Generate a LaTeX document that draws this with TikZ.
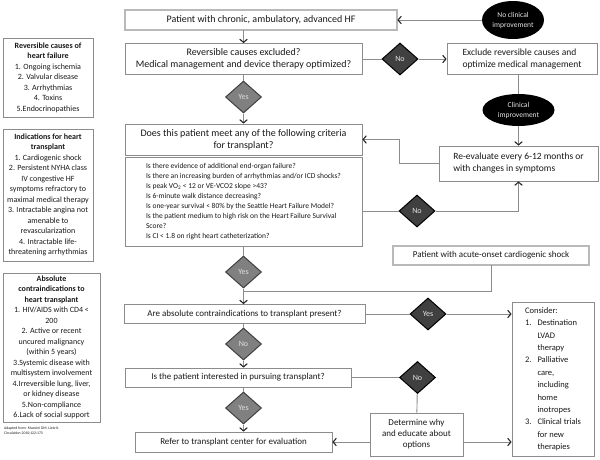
\documentclass[tikz,border=0pt]{standalone}
\usepackage{fontspec}
\setmainfont{Carlito}
\usetikzlibrary{arrows.meta,shapes.geometric,positioning,calc}
\definecolor{linegray}{HTML}{8C8C8C}
\definecolor{darkdiam}{HTML}{404040}
\definecolor{lightdiam}{HTML}{808080}
\newcommand\fsz[2]{\fontsize{#1}{#2}\selectfont}

\begin{document}
\begin{tikzpicture}[x=1pt,y=-1pt,
  every node/.style={align=center,text=black!90,inner sep=0pt,font=\fsz{9}{11}},
  sz/.style 2 args={minimum width=#1pt,minimum height=#2pt},
  box/.style={draw=linegray,line width=0.8pt,fill=white},
  dbox/.style={draw=black!65,line width=0.7pt,double=gray!55,double distance=1.3pt,fill=white},
  sidebox/.style={box,font=\fsz{8}{10.5}},
  ydiam/.style={diamond,draw=black!75,line width=1pt,fill=lightdiam,text=gray!25,
                minimum width=36pt,minimum height=32pt,font=\fsz{8}{9}},
  ndiam/.style={ydiam,fill=darkdiam,draw=black,text=white!90!black},
  oval/.style={ellipse,fill=black,text=white!90!black,font=\fsz{7.5}{10}},
  link/.style={draw=linegray,line width=0.9pt},
  flow/.style={link,-{Straight Barb[length=3.2pt,width=7.5pt,color=black!85,line width=1.1pt]}}]

    \useasboundingbox (0,0) rectangle (600,459);

    % side panels
    \node[sidebox,sz={90}{79}](revc) at (48,77.5)
      {\textbf{Reversible causes of}\\ \textbf{heart failure}\\ 1. Ongoing ischemia\\
       2. Valvular disease\\ 3. Arrhythmias\\ 4. Toxins\\ 5.Endocrinopathies};
    \node[sidebox,sz={90}{132}](indic) at (48,195)
      {\textbf{Indications for heart}\\ \textbf{transplant}\\ 1. Cardiogenic shock\\
       2. Persistent NYHA class\\ IV congestive HF\\ symptoms refractory to\\
       maximal medical therapy\\ 3. Intractable angina not\\ amenable to\\
       revascularization\\ 4. Intractable life-\\ threatening arrhythmias};
    \node[sidebox,sz={97}{149}](absc) at (51.5,347.5)
      {\textbf{Absolute}\\ \textbf{contraindications to}\\ \textbf{heart transplant}\\
       1. HIV/AIDS with CD4 <\\ 200\\ 2. Active or recent\\ uncured malignancy\\
       (within 5 years)\\ 3.Systemic disease with\\ multisystem involvement\\
       4.Irreversible lung, liver,\\ or kidney disease\\ 5.Non-compliance\\
       6.Lack of social support};
    \node[anchor=north west,align=left,font=\fsz{3.8}{4.4}](src) at (4,427)
      {Adapted from: Mancini DM, Lietz K.\\ Circulation 2010;122:173};

    % main column
    \node[dbox,sz={272}{20},font=\fsz{10}{12}](top) at (261,20)
      {Patient with chronic, ambulatory, advanced HF};
    \node[box,sz={237}{31},font=\fsz{10}{12}](rev) at (243.5,59)
      {Reversible causes excluded?\\ Medical management and device therapy optimized?};
    \node[ydiam](yes0) at (243.5,97){Yes};
    \node[box,sz={237}{31},font=\fsz{10}{12}](does) at (243.5,139.5)
      {Does this patient meet any of the following criteria\\ for transplant?};
    \node[box,sz={237}{89},align=left,font=\fsz{7.5}{10}](crit) at (243.5,201.5)
      {Is there evidence of additional end-organ failure?\\
       Is there an increasing burden of arrhythmias and/or ICD shocks?\\
       Is peak VO\textsubscript{2} < 12 or VE-VCO2 slope >43?\\
       Is 6-minute walk distance decreasing?\\
       Is one-year survival < 80\% by the Seattle Heart Failure Model?\\
       Is the patient medium to high risk on the Heart Failure Survival\\
       Score?\\
       Is CI < 1.8 on right heart catheterization?};
    \node[ydiam](yesA) at (243.5,272){Yes};
    \node[box,sz={241}{19}](contra) at (244.5,314)
      {Are absolute contraindications to transplant present?};
    \node[ydiam](noC) at (243.5,344){No};
    \node[box,sz={226}{19}](inter) at (238,377.5)
      {Is the patient interested in pursuing transplant?};
    \node[ydiam](yesC) at (243.5,408){Yes};
    \node[box,sz={197}{20}](refer) at (233.5,442)
      {Refer to transplant center for evaluation};

    % right side
    \node[oval,sz={62}{38}](noclin) at (513,20){No clinical\\ improvement};
    \node[ndiam](noA) at (400,59){No};
    \node[box,sz={150}{31},align=left,font=\fsz{9.5}{12}](excl) at (522,59)
      {Exclude reversible causes and\\ optimize medical management};
    \node[oval,sz={72}{32}](clin) at (518.5,110){Clinical\\ improvement};
    \node[box,sz={159}{35},align=left,font=\fsz{9.5}{12}](reev) at (518.5,163.5)
      {Re-evaluate every 6-12 months or\\ with changes in symptoms};
    \node[ndiam](noB) at (417,211){No};
    \node[dbox,sz={196}{19}](acute) at (491,255.5)
      {Patient with acute-onset cardiogenic shock};
    \node[ndiam](yesB) at (428,314){Yes};
    \node[box,sz={82}{154},font=\fsz{8.5}{12.4}](consid) at (553,379)
      {\begin{tabular}{@{}l@{\hspace{6pt}}l@{}}
         \multicolumn{2}{@{}l}{Consider:}\\
         1. & Destination\\ & LVAD\\ & therapy\\
         2. & Palliative\\ & care,\\ & including\\ & home\\ & inotropes\\
         3. & Clinical trials\\ & for new\\ & therapies
       \end{tabular}};
    \node[ndiam](noD) at (417.5,377.5){No};
    \node[box,sz={93}{43}](determ) at (416.5,434.5)
      {Determine why\\ and educate about\\ options};
    \coordinate (jn) at (243.5,291);

    % connectors
    \draw[flow](noclin.west) -- (top.east);
    \draw[flow](top.south -| rev.north) -- (rev.north);
    \draw[link](rev) -- (yes0);
    \draw[flow](yes0) -- (does);
    \draw[link](rev) -- (noA);
    \draw[flow](noA) -- (excl);
    \draw[link](excl.south -| clin) -- (clin);
    \draw[flow](clin) -- (reev);
    \draw[flow](reev.west) -- ++(-39,0) |- (does.east);
    \draw[link](crit.east |- noB) -- (noB);
    \draw[flow](noB.east) -| (reev.south);
    \draw[link](crit) -- (yesA);
    \draw[flow](yesA) -- (yesA |- contra.north);
    \draw[link](acute.south) |- (jn);
    \draw[link](contra) -- (yesB);
    \draw[flow](yesB) -- (yesB -| consid.west);
    \draw[link](contra.south -| noC) -- (noC);
    \draw[flow](noC) -- (noC |- inter.north);
    \draw[link](inter.east |- noD) -- (noD);
    \draw[link](noD) -- (determ);
    \draw[link](inter.south -| yesC) -- (yesC);
    \draw[flow](yesC) -- (yesC |- refer.north);
    \draw[flow](refer.east -| determ.west) -- (refer.east);
    \draw[flow](refer.east -| determ.east) -- (refer.east -| consid.west);
\end{tikzpicture}
\end{document}
